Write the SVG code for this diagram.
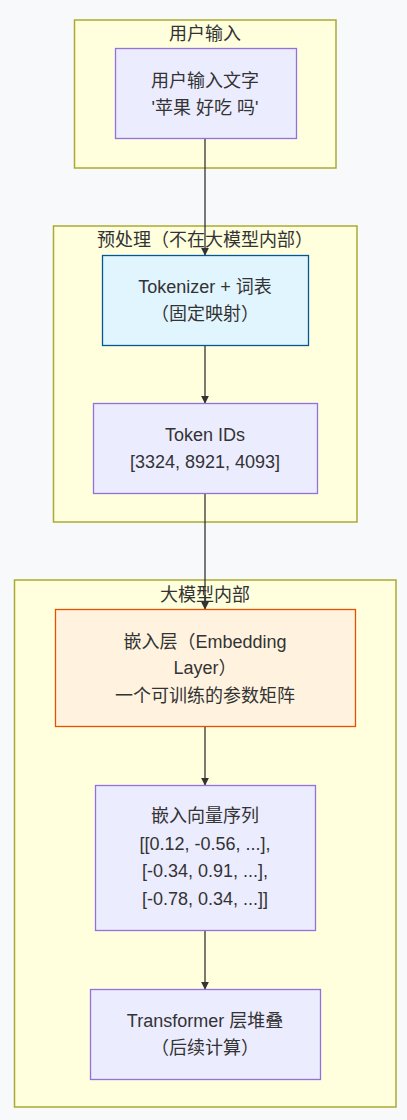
<svg xmlns="http://www.w3.org/2000/svg" width="407" height="1120" viewBox="0 0 407 1120">
<defs>
<style>
text{font-family:"Liberation Sans","Noto Sans CJK SC",sans-serif;font-size:18px;fill:#333;text-anchor:middle;}
.cluster{fill:#ffffde;stroke:#aaaa33;stroke-width:1.5;}
.node{fill:#ececff;stroke:#9370db;stroke-width:1.3;}
.blue{fill:#e1f5fe;stroke:#01579b;stroke-width:1.3;}
.orange{fill:#fff3e0;stroke:#e65100;stroke-width:1.3;}
.edge{stroke:#333;stroke-width:1.3;fill:none;marker-end:url(#arrow);}
</style>
<marker id="arrow" viewBox="0 0 10 10" refX="9" refY="5" markerWidth="8" markerHeight="8" markerUnits="userSpaceOnUse" orient="auto">
<path d="M0,0 L10,5 L0,10 z" fill="#333"/>
</marker>
</defs>
<rect width="407" height="1120" fill="#f8f9fb"/>
<g id="cluster-input">
<rect class="cluster" x="74.5" y="20" width="261.5" height="148"/>
<text x="205" y="40">用户输入</text>
</g>
<g id="cluster-pre">
<rect class="cluster" x="53.5" y="226" width="303.5" height="296"/>
<text x="205" y="246">预处理（不在大模型内部）</text>
</g>
<g id="cluster-model">
<rect class="cluster" x="14.5" y="580" width="381.5" height="527"/>
<text x="205" y="601">大模型内部</text>
</g>
<g id="connectors">
<path class="edge" d="M205,139 V255"/>
<path class="edge" d="M205,345 V403"/>
<path class="edge" d="M205,493 V609"/>
<path class="edge" d="M205,727 V785"/>
<path class="edge" d="M205,931 V989"/>
</g>
<g id="node-input">
<rect class="node" x="115.5" y="48.5" width="181" height="90"/>
<text x="205" y="87">用户输入文字</text>
<text x="205" y="114">'苹果 好吃 吗'</text>
</g>
<g id="node-tokenizer">
<rect class="blue" x="102.5" y="255.5" width="206" height="90"/>
<text x="205" y="293">Tokenizer + 词表</text>
<text x="205" y="320">（固定映射）</text>
</g>
<g id="node-ids">
<rect class="node" x="93.5" y="403.5" width="224" height="90"/>
<text x="205" y="441">Token IDs</text>
<text x="205" y="468">[3324, 8921, 4093]</text>
</g>
<g id="node-embed">
<rect class="orange" x="55.5" y="609.5" width="300" height="117"/>
<text x="205" y="648">嵌入层（Embedding</text>
<text x="205" y="674">Layer）</text>
<text x="205" y="702">一个可训练的参数矩阵</text>
</g>
<g id="node-seq">
<rect class="node" x="95.5" y="785.5" width="220" height="145"/>
<text x="205" y="822">嵌入向量序列</text>
<text x="205" y="850">[[0.12, -0.56, ...],</text>
<text x="205" y="877">[-0.34, 0.91, ...],</text>
<text x="205" y="905">[-0.78, 0.34, ...]]</text>
</g>
<g id="node-transformer">
<rect class="node" x="90.5" y="989.5" width="230" height="90"/>
<text x="205" y="1027">Transformer 层堆叠</text>
<text x="205" y="1054">（后续计算）</text>
</g>
</svg>
